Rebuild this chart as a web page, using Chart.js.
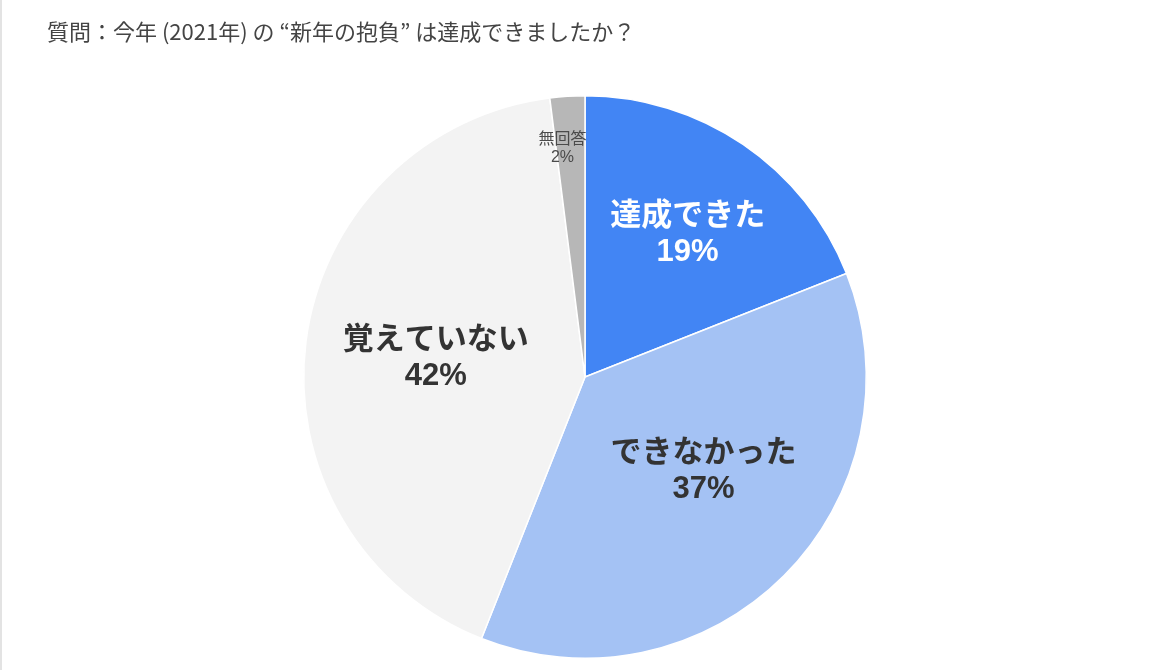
<!DOCTYPE html>
<html lang="ja">
<head>
<meta charset="utf-8">
<script src="https://cdn.jsdelivr.net/npm/chart.js@4.4.1/dist/chart.umd.min.js"></script>
<style>
  html, body { margin: 0; padding: 0; background: #fff; }
  #wrap { position: relative; width: 1169px; height: 670px; border-left: 2px solid #e3e3e3; box-sizing: border-box; }
  #wrap canvas { position: absolute; left: -2px; top: 0; }
</style>
</head>
<body>
<div id="wrap"><canvas id="pieChart" width="1169" height="670"></canvas></div>
<script>
const titulo = "質問：今年 (2021年) の “新年の抱負” は達成できましたか？";
const categorias = ["達成できた", "できなかった", "覚えていない", "無回答"];
const valores = [19, 37, 42, 2];
const rotulos = ["19%", "37%", "42%", "2%"];

const cores = ["#4285f4", "#a4c2f4", "#f3f3f3", "#b7b7b7"];
const coresTexto = ["#ffffff", "#333333", "#333333", "#4a4a4a"];
// posição dos rótulos: fração do raio e desvio de ângulo (graus)
const raioRotulo = [0.63, 0.535, 0.535, 0.82];
const desvioRotulo = [1.2, -7, 0.4, -2];

const rotulosPlugin = {
    id: "rotulosFatia",
    afterDatasetsDraw(chart) {
        const ctx = chart.ctx;
        const arcs = chart.getDatasetMeta(0).data;
        arcs.forEach((arc, i) => {
            const p = arc.getProps(["x", "y", "startAngle", "endAngle", "outerRadius"], true);
            const meio = (p.startAngle + p.endAngle) / 2 + desvioRotulo[i] * Math.PI / 180;
            const r = p.outerRadius * raioRotulo[i];
            const x = p.x + Math.cos(meio) * r;
            const y = p.y + Math.sin(meio) * r;
            const pequeno = i === 3;
            const tam = pequeno ? 16 : 31;
            const lh = pequeno ? 20 : 39;
            ctx.save();
            ctx.fillStyle = coresTexto[i];
            ctx.textAlign = "center";
            ctx.textBaseline = "middle";
            ctx.font = (pequeno ? "normal " : "bold ") + tam + "px 'Noto Sans CJK JP', 'Noto Sans', sans-serif";
            ctx.fillText(categorias[i], x, y - lh / 2);
            ctx.font = (pequeno ? "normal " : "bold ") + tam + "px 'Liberation Sans', Arial, sans-serif";
            ctx.fillText(rotulos[i], x, y + lh / 2);
            ctx.restore();
        });
    }
};

const ctx = document.getElementById("pieChart").getContext("2d");
new Chart(ctx, {
    type: "pie",
    data: {
        labels: categorias,
        datasets: [{
            data: valores,
            backgroundColor: cores,
            borderColor: "#ffffff",
            borderWidth: 1.5
        }]
    },
    options: {
        responsive: false,
        animation: false,
        layout: { padding: { left: 47, right: 46, top: 0, bottom: 11 } },
        plugins: {
            legend: { display: false },
            tooltip: { enabled: false },
            title: {
                display: true,
                text: titulo,
                align: "start",
                color: "#444444",
                font: { family: "'Noto Sans CJK JP', sans-serif", size: 22, weight: "normal", lineHeight: 1.2 },
                padding: { top: 18, bottom: 50.6 }
            }
        }
    },
    plugins: [rotulosPlugin]
});
</script>
</body>
</html>
